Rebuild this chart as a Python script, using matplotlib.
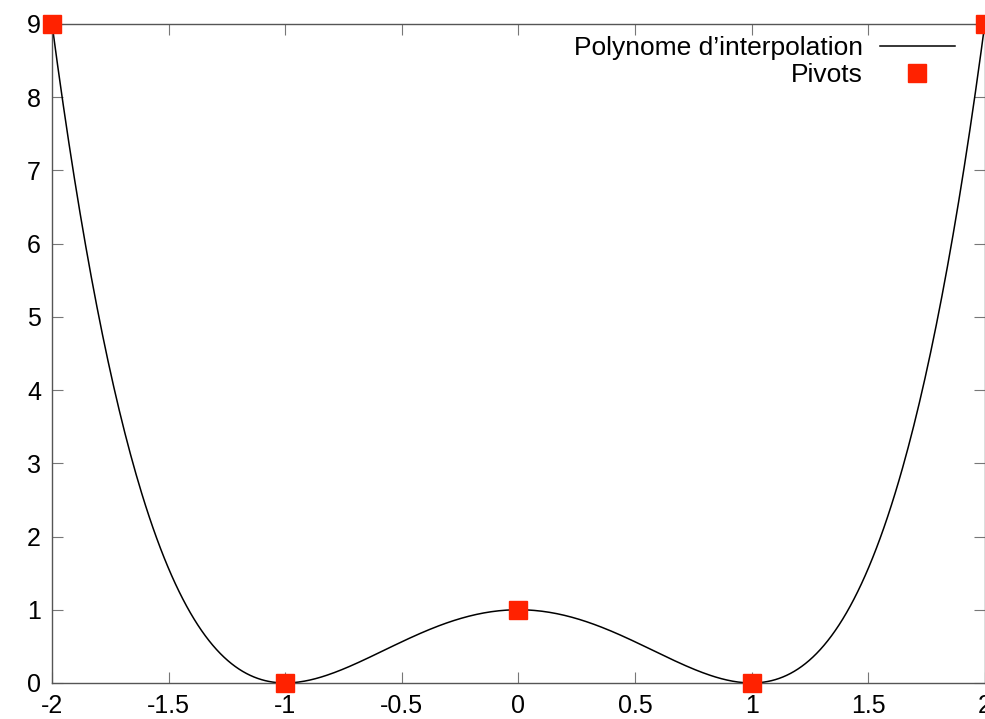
import matplotlib.pyplot as plt
import numpy as np

# Pivots d'interpolation
x_piv = [-2, -1, 0, 1, 2]
y_piv = [9, 0, 1, 0, 9]

x_ticks = [-2, -1.5, -1, -0.5, 0, 0.5, 1, 1.5, 2]
x_labels = ['-2', '-1.5', '-1', '-0.5', '0', '0.5', '1', '1.5', '2']
y_ticks = [0, 1, 2, 3, 4, 5, 6, 7, 8, 9]

# polynome d'interpolation de Lagrange passant par les pivots
coef = np.polyfit(x_piv, y_piv, len(x_piv) - 1)
xx = np.linspace(-2, 2, 500)
yy = np.polyval(coef, xx)

plt.rcParams['font.family'] = ['Liberation Sans', 'DejaVu Sans']

fig = plt.figure(figsize=(9.85, 7.19), dpi=100)
ax = fig.add_axes([0.0528, 0.0501, 0.947, 0.9166])

ax.plot(xx, yy, color='black', lw=1.1, label='Polynome d\u2019interpolation')
ax.plot(x_piv, y_piv, 's', color='#ff2200', markersize=13.5, ls='none',
        clip_on=False, zorder=5, label='Pivots')

ax.set_xlim(-2, 2)
ax.set_ylim(0, 9)
ax.set_xticks(x_ticks)
ax.set_xticklabels(x_labels)
ax.set_yticks(y_ticks)
ax.tick_params(direction='in', length=8, width=0.8, color='#777777',
               labelsize=18, top=True, right=True, pad=8)
for s in ax.spines.values():
    s.set_color('#555555')
    s.set_linewidth(1.0)

leg = ax.legend(loc='upper right', bbox_to_anchor=(0.968, 0.982), frameon=False,
                fontsize=19, markerfirst=False, handlelength=2.85,
                handletextpad=0.65, borderaxespad=0, borderpad=0,
                labelspacing=0.12, numpoints=1)
for t in leg.get_texts():
    t.set_ha('right')

fig.savefig('out.png', dpi=100)
